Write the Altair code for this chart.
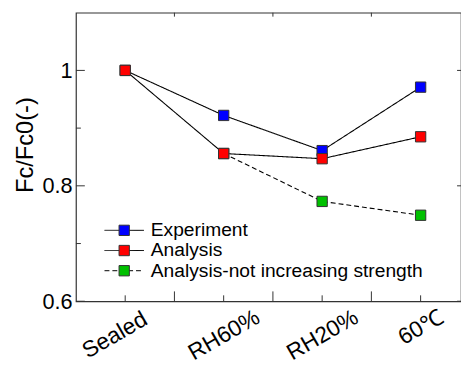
import altair as alt
import pandas as pd

categories = ["Sealed", "RH60%", "RH20%", "60℃"]
experiment = [1.0, 0.922, 0.861, 0.971]
analysis = [1.0, 0.856, 0.847, 0.885]
no_increase_cats = ["RH60%", "RH20%", "60℃"]
no_increase = [0.856, 0.773, 0.749]

series_names = ["Experiment", "Analysis", "Analysis-not increasing strength"]
series_colors = ["#0000ff", "#ff0000", "#00c000"]
series_dash = [[1, 0], [1, 0], [5, 3]]

x_major_ticks = [0.5, 1.5, 2.5]
x_minor_ticks = [0, 1, 2, 3]
y_major_ticks = [0.6, 0.8, 1.0]
y_minor_ticks = [0.7, 0.9]
y_labels = [0.6, 0.8, 1.0]

W, H = 391, 293

rows = []
# draw order: blue, green, red (red on top)
for c, v in zip(categories, experiment):
    rows.append({"series": series_names[0], "idx": categories.index(c), "value": v})
for c, v in zip(no_increase_cats, no_increase):
    rows.append({"series": series_names[2], "idx": categories.index(c), "value": v})
for c, v in zip(categories, analysis):
    rows.append({"series": series_names[1], "idx": categories.index(c), "value": v})
df = pd.DataFrame(rows)

xscale = alt.Scale(domain=[-0.5, 3.41], nice=False, zero=False)
yscale = alt.Scale(domain=[0.6, 1.1], nice=False, zero=False)

label_expr = "[" + ",".join("'" + c + "'" for c in categories) + "][round(datum.value)]"
x_axis = alt.Axis(values=x_minor_ticks, labelExpr=label_expr, labelAngle=330,
                  labelAlign="center", labelBaseline="middle",
                  labelPadding={"condition": {"test": "datum.value == 3", "value": 26}, "value": 34},
                  labelOffset={"condition": {"test": "datum.value == 0", "value": -11}, "value": 0},
                  labelFontSize=23, ticks=False, domain=False, grid=False, title=None,
                  labelColor="black", labelOverlap=False, labelFlush=False)
y_axis = alt.Axis(values=y_labels, format="~g", labelFontSize=22, labelPadding=4,
                  ticks=False, domain=False, grid=False, title="Fc/Fc0(-)",
                  titleFontSize=24, titleFontWeight="normal", titleAngle=270,
                  titleX=-51, titleY=134, titleBaseline="middle", titleAlign="center",
                  labelOverlap=False, labelFlush=False, labelColor="black", titleColor="black")


def X(field):
    return alt.X(field, type="quantitative", scale=xscale, axis=x_axis)


def Y(field):
    return alt.Y(field, type="quantitative", scale=yscale, axis=y_axis)


lines = alt.Chart(df).mark_line(color="black", strokeWidth=1.1).encode(
    x=X("idx"), y=Y("value"),
    detail="series:N",
    strokeDash=alt.StrokeDash("series:N", scale=alt.Scale(domain=series_names, range=series_dash), legend=None),
    order="idx:Q",
)

points = alt.Chart(df).mark_square(size=110, stroke="#333", strokeWidth=1, opacity=1).encode(
    x=X("idx"), y=Y("value"),
    fill=alt.Fill("series:N", scale=alt.Scale(domain=series_names, range=series_colors), legend=None),
)

tick_color = "#333"
xt_major = alt.Chart(pd.DataFrame({"v": x_major_ticks})).mark_rule(color=tick_color, strokeWidth=1).encode(
    x=X("v"), y=alt.value(H), y2=alt.value(H - 10))
xt_minor = alt.Chart(pd.DataFrame({"v": x_minor_ticks})).mark_rule(color=tick_color, strokeWidth=1).encode(
    x=X("v"), y=alt.value(H), y2=alt.value(H - 6))
xt_top = alt.Chart(pd.DataFrame({"v": x_major_ticks})).mark_rule(color=tick_color, strokeWidth=1).encode(
    x=X("v"), y=alt.value(0), y2=alt.value(4))
yt_major = alt.Chart(pd.DataFrame({"v": y_major_ticks})).mark_rule(color=tick_color, strokeWidth=1).encode(
    y=Y("v"), x=alt.value(0), x2=alt.value(9))
yt_minor = alt.Chart(pd.DataFrame({"v": y_minor_ticks})).mark_rule(color=tick_color, strokeWidth=1).encode(
    y=Y("v"), x=alt.value(0), x2=alt.value(5))
yt_right = alt.Chart(pd.DataFrame({"v": y_major_ticks})).mark_rule(color=tick_color, strokeWidth=1).encode(
    y=Y("v"), x=alt.value(W - 4), x2=alt.value(W))

legend_layers = []
for i, (name, col, dash) in enumerate(zip(series_names, series_colors, series_dash)):
    yy = 221 + 20.5 * i
    ld = pd.DataFrame({"name": [name]})
    legend_layers.append(alt.Chart(ld).mark_rule(color="black", strokeWidth=1, strokeDash=dash).encode(
        x=alt.value(29), x2=alt.value(69), y=alt.value(yy)))
    legend_layers.append(alt.Chart(ld).mark_square(size=110, stroke="#333", strokeWidth=1, opacity=1, fill=col).encode(
        x=alt.value(49), y=alt.value(yy)))
    legend_layers.append(alt.Chart(ld).mark_text(align="left", baseline="middle", fontSize=19.5, color="black").encode(
        x=alt.value(76), y=alt.value(yy), text="name:N"))

chart = alt.layer(
    lines, points, xt_major, xt_minor, xt_top, yt_major, yt_minor, yt_right, *legend_layers
).properties(
    width=W, height=H,
    padding={"left": 69, "top": 2, "right": 0, "bottom": 64},
    autosize=alt.AutoSizeParams(type="none"),
    background="white",
).configure(font="Liberation Sans").configure_view(stroke="#333", strokeWidth=1.2)

chart.save("out.html", embed_options={"renderer": "svg", "actions": False})
